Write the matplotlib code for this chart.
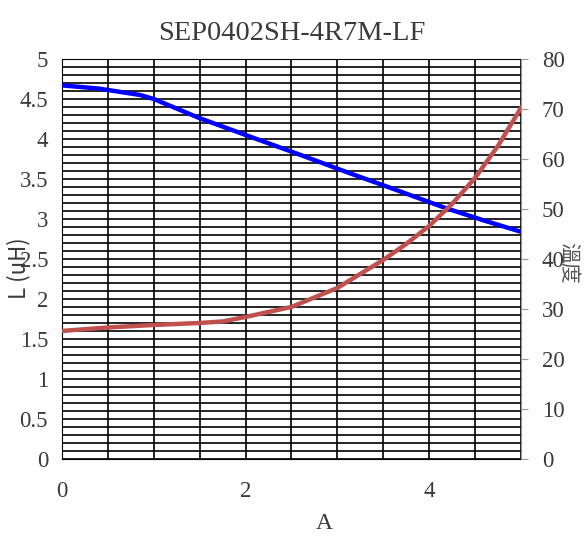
import matplotlib
matplotlib.use("Agg")
import matplotlib.pyplot as plt
from matplotlib.ticker import MultipleLocator

# inductance curve (left axis)
current_l = [0.0, 0.4, 0.85, 1.0, 1.5, 2.0, 2.6, 3.14, 3.6, 4.17, 4.6, 5.0]
inductance = [4.67, 4.63, 4.55, 4.5, 4.26, 4.05, 3.80, 3.57, 3.38, 3.14, 2.98, 2.84]

# temperature curve (right axis)
current_t = [0.0, 0.5, 1.0, 1.5, 1.75, 2.0, 2.5, 3.0, 3.5, 3.75, 4.0, 4.25, 4.5, 4.75, 5.0]
temperature = [25.6, 26.3, 26.8, 27.2, 27.5, 28.4, 30.4, 34.2, 39.8, 43.0, 46.6, 51.0, 56.2, 62.6, 70.2]

x_ticks = [0, 2, 4]
title = "SEP0402SH-4R7M-LF"

serif = ["Liberation Serif", "DejaVu Serif"]
cjk = ["Noto Sans CJK TC", "DejaVu Sans"]
text_color = "#3a3a3a"

fig = plt.figure(figsize=(5.84, 5.36), dpi=100)
ax = fig.add_axes([0.106, 0.1437, 0.786, 0.7463])
ax2 = ax.twinx()

ax.set_xlim(0, 5)
ax.set_ylim(0, 5)
ax2.set_ylim(0, 80)

ax.xaxis.set_minor_locator(MultipleLocator(0.5))
ax.yaxis.set_minor_locator(MultipleLocator(0.1))
ax.grid(which="both", axis="both", color="black", linewidth=1.2)
ax.set_axisbelow(True)

ax.set_xticks(x_ticks)
ax.set_yticks([i * 0.5 for i in range(11)])
ax.set_yticklabels(["0", "0.5", "1", "1.5", "2", "2.5", "3", "3.5", "4", "4.5", "5"])
ax.tick_params(which="both", length=0)
ax.tick_params(axis="x", pad=16)
ax.tick_params(axis="y", pad=10)
for lab in ax.get_xticklabels() + ax.get_yticklabels():
    lab.set_fontfamily(serif)
    lab.set_fontsize(16.5)
    lab.set_color(text_color)

ax2.set_yticks(range(0, 81, 10))
ax2.tick_params(axis="y", length=5, color="#999999", pad=10)
for lab in ax2.get_yticklabels():
    lab.set_fontfamily(serif)
    lab.set_fontsize(16.5)
    lab.set_color(text_color)

for side in ["left", "bottom", "top"]:
    ax.spines[side].set_color("black")
ax.spines["right"].set_visible(False)
for side in ["left", "bottom", "top"]:
    ax2.spines[side].set_visible(False)
ax2.spines["right"].set_color("#999999")

ax.plot(current_l, inductance, color="#0000FF", linewidth=3.2, zorder=3)
ax2.plot(current_t, temperature, color="#C0504D", linewidth=3.2, zorder=3)

ax.set_title(title, fontfamily=serif, fontsize=20.5, color=text_color, pad=14)
fig.text(0.555, 0.024, "A", ha="center", va="center",
         fontfamily=serif, fontsize=17, color=text_color)
fig.text(0.031, 0.50, "L (uH)", rotation=90, ha="center", va="center",
         fontfamily=cjk, fontsize=16, color=text_color)
fig.text(0.972, 0.51, "溫度", rotation=-90, ha="center", va="center",
         fontfamily=cjk, fontsize=15, color="#555555")

fig.savefig("out.png", dpi=100)
